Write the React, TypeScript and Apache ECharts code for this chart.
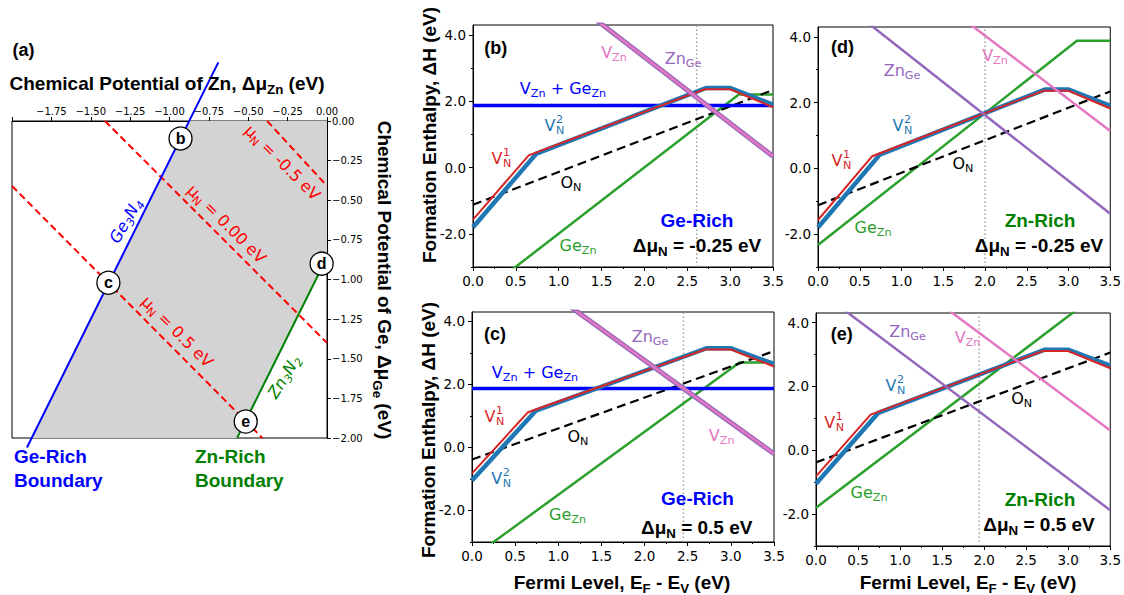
import React, { useEffect, useRef } from "react";
import * as echarts from "echarts";

const FONT = "'DejaVu Sans', Verdana, sans-serif";
const BOLD = "'Liberation Sans', Arial, Helvetica, sans-serif";

// ================= Panel (a): chemical potential map =================
const ge3n4Boundary = [[-0.69, 0.37], [-1.905, -2.06]];
const zn3n2Boundary = [[-0.571, -2.0], [0.0, -0.86]];
const stableRegion = [[-0.875, 0.0], [0.0, 0.0], [0.0, -0.86], [-0.571, -2.0], [-1.875, -2.0]];
const muNMinus05 = [[-0.38, 0.0], [0.0, -0.41]];
const muNZero = [[-1.41, 0.0], [0.0, -1.4]];
const muNPlus05 = [[-2.0, -0.41], [-0.41, -2.0]];
const pointNames = ["b", "c", "d", "e"];
const pointMuZn = [-0.93, -1.388, -0.034, -0.516];
const pointMuGe = [-0.11, -1.02, -0.9, -1.896];

// ================= Panels (b)-(e): formation enthalpies =================
const yMajorTicks = [-2, 0, 2, 4];
const yMinorTicks = [-3, -1, 1, 3];
const Y_MIN = -3;
const Y_MAX = 4.3;

// Δμ_N = -0.25 eV (panels b, d)
const vN1_lowN = [[0, -1.57], [0.65, 0.37], [2.7, 2.36], [3.0, 2.36], [3.5, 1.82]];
const vN2_lowN = [[0, -1.8], [0.74, 0.42], [2.72, 2.4], [3.0, 2.4], [3.5, 1.9]];
const oN_lowN = [[0, -1.12], [3.5, 2.34]];
// Δμ_N = 0.5 eV (panels c, e)
const vN1_highN = [[0, -0.82], [0.65, 1.12], [2.7, 3.11], [3.0, 3.11], [3.5, 2.57]];
const vN2_highN = [[0, -1.05], [0.74, 1.17], [2.72, 3.15], [3.0, 3.15], [3.5, 2.65]];
const oN_highN = [[0, -0.38], [3.5, 3.06]];

// (b) Ge-rich, Δμ_N = -0.25
const geZn_b = [[0, -3.99], [3.1, 2.2], [3.5, 2.2]];
const znGe_b = [[0, 7.32], [3.5, 0.34]];
const vZn_b = [[0, 7.32], [3.5, 0.34]];
const complex_b = [[0, 1.87], [3.5, 1.87]];
const ef_b = 2.61;
// (d) Zn-rich, Δμ_N = -0.25
const geZn_d = [[0, -2.33], [3.1, 3.88], [3.5, 3.88]];
const znGe_d = [[0, 5.62], [3.5, -1.38]];
const vZn_d = [[0, 7.9], [3.5, 1.14]];
const ef_d = 2.0;
// (c) Ge-rich, Δμ_N = 0.5
const geZn_c = [[0, -3.5], [3.1, 2.7], [3.5, 2.7]];
const znGe_c = [[0, 6.72], [3.5, -0.2]];
const vZn_c = [[0, 6.72], [3.5, -0.2]];
const complex_c = [[0, 1.87], [3.5, 1.87]];
const ef_c = 2.45;
// (e) Zn-rich, Δμ_N = 0.5
const geZn_e = [[0, -1.8], [3.1, 4.4], [3.5, 4.4]];
const znGe_e = [[0, 5.06], [3.5, -1.88]];
const vZn_e = [[0, 7.48], [3.5, 0.62]];
const ef_e = 1.94;

const COL = {
  vN1: "#d62728",
  vN2: "#1f77b4",
  oN: "#000000",
  geZn: "#2ca02c",
  znGe: "#9467bd",
  vZn: "#e377c2",
  complex: "#0000ff",
  geRich: "#0000ff",
  znRich: "#008000",
};

const panels = [
  { grid: { left: 473, top: 25, width: 300, height: 242 }, vN1: vN1_lowN, vN2: vN2_lowN, oN: oN_lowN, geZn: geZn_b, znGe: znGe_b, vZn: vZn_b, complex: complex_b, ef: ef_b, overlap: true },
  { grid: { left: 818, top: 27, width: 295, height: 240 }, vN1: vN1_lowN, vN2: vN2_lowN, oN: oN_lowN, geZn: geZn_d, znGe: znGe_d, vZn: vZn_d, complex: null, ef: ef_d, overlap: false },
  { grid: { left: 472, top: 312, width: 302, height: 230 }, vN1: vN1_highN, vN2: vN2_highN, oN: oN_highN, geZn: geZn_c, znGe: znGe_c, vZn: vZn_c, complex: complex_c, ef: ef_c, overlap: true },
  { grid: { left: 816, top: 313, width: 300, height: 233 }, vN1: vN1_highN, vN2: vN2_highN, oN: oN_highN, geZn: geZn_e, znGe: znGe_e, vZn: vZn_e, complex: null, ef: ef_e, overlap: false },
];

// ================= helpers =================
function richStyles(color: string, size: number, family: string, weight: string, italic: boolean) {
  const base: any = { fontSize: size, fontFamily: family, fontWeight: weight, fontStyle: italic ? "italic" : "normal", fill: color, color };
  return {
    a: { ...base, lineHeight: size * 1.35 },
    s: { ...base, fontSize: size * 0.7, lineHeight: size * 0.7, verticalAlign: "bottom" },
    p: { ...base, fontSize: size * 0.7, lineHeight: size * 0.7, verticalAlign: "top" },
  };
}

function label(x: number, y: number, text: string, color: string, size: number, opt: any = {}) {
  const family = opt.family || FONT;
  const weight = opt.weight || "normal";
  const align = opt.align || "center";
  return {
    type: "text",
    x,
    y,
    rotation: opt.rotation || 0,
    z: 100,
    silent: true,
    style: {
      text,
      x: 0,
      y: 0,
      fill: color,
      fontSize: size,
      fontFamily: family,
      fontWeight: weight,
      fontStyle: opt.italic ? "italic" : "normal",
      align,
      textAlign: align,
      verticalAlign: "middle",
      textVerticalAlign: "middle",
      rich: richStyles(color, size, family, weight, !!opt.italic),
    },
  };
}

function stacked(cx: number, cy: number, sup: string, sub: string, color: string) {
  return [
    label(cx, cy, "{a|V}", color, 16),
    label(cx + 6, cy - 5.8, "{a|" + sup + "}", color, 11.2, { align: "left" }),
    label(cx + 6, cy + 5.6, "{a|" + sub + "}", color, 11.2, { align: "left" }),
  ];
}

const bold = (x: number, y: number, text: string, color: string, size = 19, opt: any = {}) =>
  label(x, y, text, color, size, { family: BOLD, weight: "bold", ...opt });

const muFmt = (v: number) => (v < -1e-9 ? "\u2212" : "") + Math.abs(v).toFixed(2);

const deg = (d: number) => (d * Math.PI) / 180;

// ================= option =================
function buildOption() {
  const axisLineStyle = { show: true, onZero: false, lineStyle: { color: "#000", width: 1 } };
  const tickFont = { fontFamily: FONT, color: "#000" };

  const grids: any[] = [
    { left: 12, top: 121, width: 315, height: 317, show: true, borderColor: "#000", borderWidth: 1, backgroundColor: "transparent" },
    ...panels.map((p) => ({ ...p.grid, show: true, borderColor: "#000", borderWidth: 1, backgroundColor: "transparent" })),
  ];

  const xAxes: any[] = [
    {
      gridIndex: 0, type: "value", position: "top", min: -2, max: 0, interval: 0.25,
      axisLine: axisLineStyle,
      axisTick: { show: true, length: 4, inside: false, lineStyle: { color: "#000" } },
      axisLabel: { ...tickFont, fontSize: 10, margin: 5, showMinLabel: true, showMaxLabel: true,
        formatter: (v: number) => (Math.abs(v + 2) < 1e-9 ? "" : muFmt(v)) },
      splitLine: { show: false },
    },
    ...panels.map((p, i) => ({
      gridIndex: i + 1, type: "value", min: 0, max: 3.5, interval: 0.5,
      axisLine: axisLineStyle,
      axisTick: { show: true, length: 4, inside: false, lineStyle: { color: "#000" } },
      minorTick: { show: true, splitNumber: 2, length: 2, lineStyle: { color: "#000" } },
      axisLabel: { ...tickFont, fontSize: 13.5, margin: 7, showMinLabel: true, showMaxLabel: true,
        formatter: (v: number) => v.toFixed(1) },
      splitLine: { show: false },
      minorSplitLine: { show: false },
    })),
  ];

  const yAxes: any[] = [
    {
      gridIndex: 0, type: "value", position: "right", min: -2, max: 0, interval: 0.25,
      axisLine: axisLineStyle,
      axisTick: { show: true, length: 4, inside: false, lineStyle: { color: "#000" } },
      axisLabel: { ...tickFont, fontSize: 10, margin: 5, showMinLabel: true, showMaxLabel: true, formatter: muFmt },
      splitLine: { show: false },
    },
  ];
  panels.forEach((p, i) => {
    yAxes.push({
      gridIndex: i + 1, type: "value", position: "left", min: Y_MIN, max: Y_MAX,
      axisLine: axisLineStyle,
      axisTick: { show: true, length: 4, inside: false, customValues: yMajorTicks, lineStyle: { color: "#000" } },
      axisLabel: { ...tickFont, fontSize: 13.5, margin: 7, customValues: yMajorTicks, formatter: (v: number) => v.toFixed(1) },
      splitLine: { show: false },
    });
    yAxes.push({
      gridIndex: i + 1, type: "value", position: "left", min: Y_MIN, max: Y_MAX,
      axisLine: { show: false, onZero: false },
      axisTick: { show: true, length: 2, inside: false, customValues: yMinorTicks, lineStyle: { color: "#000" } },
      axisLabel: { show: false },
      splitLine: { show: false },
    });
  });

  const series: any[] = [];
  // ---- panel (a)
  series.push({
    type: "custom", xAxisIndex: 0, yAxisIndex: 0, silent: true, z: 1, clip: false,
    data: [stableRegion[0]],
    renderItem: (_params: any, api: any) => ({
      type: "polygon",
      shape: { points: stableRegion.map((pt) => api.coord(pt)) },
      style: { fill: "#d3d3d3", stroke: "none" },
    }),
  });
  const aLine = (data: any, color: string, type: any, clip: boolean) => ({
    type: "line", xAxisIndex: 0, yAxisIndex: 0, data, symbol: "none", silent: true, clip, z: 3,
    lineStyle: { color, width: 2, type },
  });
  series.push(aLine(muNMinus05, "#ff0000", [7, 4], true));
  series.push(aLine(muNZero, "#ff0000", [7, 4], true));
  series.push(aLine(muNPlus05, "#ff0000", [7, 4], true));
  series.push(aLine(ge3n4Boundary, "#0000ff", "solid", false));
  series.push(aLine(zn3n2Boundary, "#008000", "solid", true));
  series.push({
    type: "scatter", xAxisIndex: 0, yAxisIndex: 0, silent: true, clip: false, z: 10,
    symbol: "circle", symbolSize: 23,
    itemStyle: { color: "#ffffff", borderColor: "#000", borderWidth: 1.3, opacity: 1 },
    label: { show: true, position: "inside", formatter: "{b}", fontSize: 16, fontWeight: "bold", fontFamily: BOLD, color: "#000" },
    data: pointNames.map((n, i) => ({ name: n, value: [pointMuZn[i], pointMuGe[i]] })),
  });

  // ---- panels (b)-(e)
  panels.forEach((p, i) => {
    const xi = i + 1;
    const yi = 1 + 2 * i;
    const ln = (data: any, color: string, width: number, type: any = "solid", z = 3) => ({
      type: "line", xAxisIndex: xi, yAxisIndex: yi, data, symbol: "none", silent: true, clip: true, z,
      lineStyle: { color, width, type, cap: "butt", join: "miter" },
    });
    series.push(ln([[p.ef, Y_MIN], [p.ef, Y_MAX]], "#a0a0a0", 1.5, [1.5, 2.5], 2));
    series.push(ln(p.geZn, COL.geZn, 2.5));
    series.push(ln(p.oN, COL.oN, 2.2, [9, 5]));
    if (p.complex) series.push(ln(p.complex, COL.complex, 3.5));
    series.push(ln(p.vN2, COL.vN2, 4.5));
    series.push(ln(p.vN1, COL.vN1, 2));
    series.push(ln(p.znGe, COL.znGe, p.overlap ? 5 : 2.5));
    series.push(ln(p.vZn, COL.vZn, 2.5));
  });

  // ---- texts
  const g: any[] = [];
  // panel (a)
  g.push(bold(23.5, 50, "{a|(a)}", "#000", 18));
  g.push(bold(167, 83, "{a|Chemical Potential of Zn, Δμ}{s|Zn}{a| (eV)}", "#000", 19));
  g.push(bold(384, 280, "{a|Chemical Potential of Ge, Δμ}{s|Ge}{a| (eV)}", "#000", 19, { rotation: -Math.PI / 2 }));
  g.push(label(125.7, 220.7, "{a|Ge}{s|3}{a|N}{s|4}", "#0000ff", 16, { italic: true, rotation: deg(60) }));
  g.push(label(282.6, 162.6, "{a|μ}{s|N}{a| = -0.5 eV}", "#ff0000", 16, { rotation: deg(-45) }));
  g.push(label(226.7, 224, "{a|μ}{s|N}{a| = 0.00 eV}", "#ff0000", 16, { rotation: deg(-45) }));
  g.push(label(177.3, 331.7, "{a|μ}{s|N}{a| = 0.5 eV}", "#ff0000", 16, { rotation: deg(-45) }));
  g.push(label(284, 376.7, "{a|Zn}{s|3}{a|N}{s|2}", "#008000", 16, { italic: true, rotation: deg(58) }));
  g.push(bold(14, 456.7, "{a|Ge-Rich}", COL.geRich, 19, { align: "left" }));
  g.push(bold(14, 480, "{a|Boundary}", COL.geRich, 19, { align: "left" }));
  g.push(bold(195, 456.7, "{a|Zn-Rich}", COL.znRich, 19, { align: "left" }));
  g.push(bold(195, 480, "{a|Boundary}", COL.znRich, 19, { align: "left" }));

  // panel (b)
  g.push(bold(495.7, 48.3, "{a|(b)}", "#000", 18));
  g.push(label(614, 52, "{a|V}{s|Zn}", COL.vZn, 16));
  g.push(label(683, 58.5, "{a|Zn}{s|Ge}", COL.znGe, 16));
  g.push(label(563, 88.5, "{a|V}{s|Zn}{a| + Ge}{s|Zn}", COL.complex, 16));
  g.push(...stacked(550, 125, "2", "N", COL.vN2));
  g.push(...stacked(497, 158, "1", "N", COL.vN1));
  g.push(label(571, 182, "{a|O}{s|N}", COL.oN, 16));
  g.push(label(578, 245.5, "{a|Ge}{s|Zn}", COL.geZn, 16));
  g.push(bold(697, 220, "{a|Ge-Rich}", COL.geRich, 19));
  g.push(bold(697, 245, "{a|Δμ}{s|N}{a| = -0.25 eV}", "#000", 19));
  g.push(bold(429, 135, "{a|Formation Enthalpy, ΔH (eV)}", "#000", 19, { rotation: Math.PI / 2 }));

  // panel (d)
  g.push(bold(842.5, 46.7, "{a|(d)}", "#000", 18));
  g.push(label(902, 70, "{a|Zn}{s|Ge}", COL.znGe, 16));
  g.push(label(995, 55, "{a|V}{s|Zn}", COL.vZn, 16));
  g.push(...stacked(898, 125, "2", "N", COL.vN2));
  g.push(...stacked(837, 160, "1", "N", COL.vN1));
  g.push(label(963, 163.5, "{a|O}{s|N}", COL.oN, 16));
  g.push(label(873, 227.5, "{a|Ge}{s|Zn}", COL.geZn, 16));
  g.push(bold(1040, 220, "{a|Zn-Rich}", COL.znRich, 19));
  g.push(bold(1039, 245, "{a|Δμ}{s|N}{a| = -0.25 eV}", "#000", 19));

  // panel (c)
  g.push(bold(495, 334.3, "{a|(c)}", "#000", 18));
  g.push(label(650, 336, "{a|Zn}{s|Ge}", COL.znGe, 16));
  g.push(label(535, 372, "{a|V}{s|Zn}{a| + Ge}{s|Zn}", COL.complex, 16));
  g.push(...stacked(490, 416, "1", "N", COL.vN1));
  g.push(label(578, 436, "{a|O}{s|N}", COL.oN, 16));
  g.push(...stacked(496.7, 478, "2", "N", COL.vN2));
  g.push(label(721.7, 435, "{a|V}{s|Zn}", COL.vZn, 16));
  g.push(label(567.5, 514.5, "{a|Ge}{s|Zn}", COL.geZn, 16));
  g.push(bold(697.5, 498, "{a|Ge-Rich}", COL.geRich, 19));
  g.push(bold(696.7, 527, "{a|Δμ}{s|N}{a| = 0.5 eV}", "#000", 19));
  g.push(bold(428, 430, "{a|Formation Enthalpy, ΔH (eV)}", "#000", 19, { rotation: Math.PI / 2 }));
  g.push(bold(622, 582, "{a|Fermi Level, E}{s|F}{a| - E}{s|V}{a| (eV)}", "#000", 19));

  // panel (e)
  g.push(bold(841.7, 334, "{a|(e)}", "#000", 18));
  g.push(label(907.5, 331, "{a|Zn}{s|Ge}", COL.znGe, 16));
  g.push(label(967.5, 337.5, "{a|V}{s|Zn}", COL.vZn, 16));
  g.push(...stacked(891, 385, "2", "N", COL.vN2));
  g.push(...stacked(829.7, 422, "1", "N", COL.vN1));
  g.push(label(1021.7, 398.5, "{a|O}{s|N}", COL.oN, 16));
  g.push(label(869, 492.5, "{a|Ge}{s|Zn}", COL.geZn, 16));
  g.push(bold(1040, 499, "{a|Zn-Rich}", COL.znRich, 19));
  g.push(bold(1039, 524, "{a|Δμ}{s|N}{a| = 0.5 eV}", "#000", 19));
  g.push(bold(968, 582, "{a|Fermi Level, E}{s|F}{a| - E}{s|V}{a| (eV)}", "#000", 19));

  return {
    animation: false,
    backgroundColor: "#ffffff",
    grid: grids,
    xAxis: xAxes,
    yAxis: yAxes,
    series,
    graphic: { elements: g },
  };
}

export default function App() {
  const ref = useRef<HTMLDivElement>(null);
  useEffect(() => {
    if (!ref.current) return;
    const chart = echarts.init(ref.current, null, { renderer: "svg" });
    chart.setOption(buildOption() as any);
    return () => {
      chart.dispose();
    };
  }, []);
  return (
    <div
      ref={ref}
      style={{ position: "absolute", left: 0, top: 0, width: 1124, height: 595, background: "#fff" }}
    />
  );
}
